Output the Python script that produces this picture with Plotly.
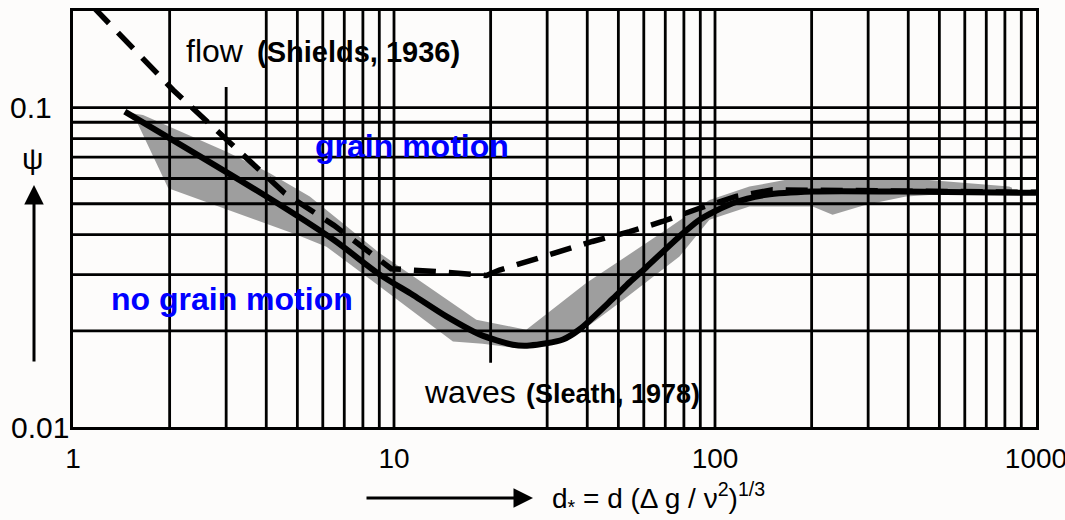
import numpy as np
import plotly.graph_objects as go

# ---------------- data ----------------
# Sleath (1978) waves curve (solid)
waves_x = [1.45, 4.02, 6.5, 9.03, 11.46, 14.56, 18.48, 23.47, 26.45, 33.6, 37.8,
           48.0, 54.2, 61.0, 77.5, 89.4, 113.5, 144.2, 201, 375, 1000]
waves_y = [0.0972, 0.0526, 0.0385, 0.0300, 0.0259, 0.0222, 0.0195, 0.0181, 0.0180,
           0.0188, 0.0202, 0.0252, 0.0284, 0.0316, 0.0395, 0.0445, 0.0502, 0.0533,
           0.0546, 0.0546, 0.0541]

# Shields (1936) flow curve (dashed)
shields_x = [1.16, 2.05, 3.1, 4.57, 6.5, 8.81, 9.8, 13.9, 19.4, 21.3, 29.4, 41.5,
             54.2, 68.6, 89.4, 116.3, 151.2, 250, 1000]
shields_y = [0.206, 0.1136, 0.0772, 0.0539, 0.0428, 0.0342, 0.0313, 0.0306, 0.0298,
             0.0310, 0.0342, 0.0381, 0.0409, 0.0440, 0.0484, 0.0527, 0.0553, 0.0549,
             0.0543]

# grey band of data scatter
band_upper_x = [1.504, 1.652, 3.009, 4.104, 5.466, 9.03, 18.05, 25.83, 39.7, 70.4,
                96.1, 128.0, 166.4, 454, 824.9, 842]
band_upper_y = [0.0962, 0.0949, 0.0728, 0.0623, 0.0527, 0.0350, 0.02166, 0.02016,
                0.02822, 0.04143, 0.05142, 0.0566, 0.0594, 0.0594, 0.0566, 0.0561]
band_lower_x = [1.582, 1.98, 4.98, 6.16, 9.03, 15.26, 18.88, 23.75, 32.8, 37.8, 50.4,
                77.5, 96.1, 128.0, 201.4, 232.4, 295.3, 393.4, 842]
band_lower_y = [0.0902, 0.0559, 0.0400, 0.0367, 0.02754, 0.01853, 0.01822, 0.0177,
                0.01849, 0.01973, 0.02448, 0.0342, 0.04453, 0.0490, 0.0490, 0.04616,
                0.04962, 0.05267, 0.05528]

# grid
x_grid = [2, 3, 4, 5, 6, 7, 8, 9, 10, 20, 30, 40, 50, 60, 70, 80, 90, 100,
          200, 300, 400, 500, 600, 700, 800, 900]
y_grid = [0.02, 0.03, 0.04, 0.05, 0.06, 0.07, 0.08, 0.09, 0.1]
x_grid_partial = {3: (0.01, 0.116), 20: (0.0159, 0.2007)}

x_tickvals = [1, 10, 100, 1000]
x_ticktext = ["1", "10", "100", "1000"]
y_tickvals = [0.01, 0.1]
y_ticktext = ["0.01", "0.1"]

x_lim = (1, 1000)
y_lim = (0.01, 0.2007)

# ---------------- figure ----------------
W, H = 1065, 520
ML, MR, MT, MB = 73, 29, 11, 93
PW, PH = W - ML - MR, H - MT - MB


def px(x):
    return (x - ML) / PW


def py(y):
    return (H - MB - y) / PH


FONT = "Liberation Sans, Arial, Helvetica, sans-serif"
fig = go.Figure()

fig.add_trace(go.Scatter(
    x=band_upper_x + band_lower_x[::-1],
    y=band_upper_y + band_lower_y[::-1],
    fill="toself", fillcolor="#9e9e9e", mode="lines", line=dict(width=0),
    hoverinfo="skip", showlegend=False))

gx, gy = [], []
for v in x_grid:
    lo, hi = x_grid_partial.get(v, y_lim)
    gx += [v, v, None]
    gy += [lo, hi, None]
for v in y_grid:
    gx += [x_lim[0], x_lim[1], None]
    gy += [v, v, None]
fig.add_trace(go.Scatter(x=gx, y=gy, mode="lines",
                         line=dict(color="black", width=2.8),
                         hoverinfo="skip", showlegend=False))

fig.add_trace(go.Scatter(x=waves_x, y=waves_y, mode="lines",
                         line=dict(color="black", width=6, shape="spline", smoothing=0.8),
                         showlegend=False))
fig.add_trace(go.Scatter(x=shields_x, y=shields_y, mode="lines",
                         line=dict(color="black", width=5.5, dash="22px,13px"),
                         showlegend=False))

fig.update_layout(
    width=W, height=H, margin=dict(l=ML, r=MR, t=MT, b=MB, autoexpand=False),
    paper_bgcolor="#fdfcfb", plot_bgcolor="#fdfcfb", showlegend=False,
    font=dict(family=FONT, color="black"))
fig.update_xaxes(type="log", range=[np.log10(x_lim[0]), np.log10(x_lim[1])],
                 showgrid=False, zeroline=False, showline=True, linewidth=3,
                 linecolor="black", mirror=True, ticks="", automargin=False,
                 tickvals=x_tickvals, ticktext=x_ticktext,
                 tickfont=dict(size=28, family=FONT), ticklabelstandoff=4,
                 ticklabeloverflow="allow")
fig.update_yaxes(type="log", range=[np.log10(y_lim[0]), np.log10(y_lim[1])],
                 showgrid=False, zeroline=False, showline=True, linewidth=3,
                 linecolor="black", mirror=True, ticks="", showticklabels=False,
                 automargin=False)

# y tick labels
for v, t, sh in zip(y_tickvals, y_ticktext, [-2, -19]):
    fig.add_annotation(x=0, xref="paper", y=np.log10(v), yref="y", text=t,
                       showarrow=False, xanchor="right", yanchor="middle", xshift=sh,
                       font=dict(size=30, family=FONT, color="black"))


def label(text, x, y, size, color="black", anchor="left"):
    fig.add_annotation(x=px(x), y=py(y), xref="paper", yref="paper", text=text,
                       showarrow=False, xanchor=anchor, yanchor="middle",
                       font=dict(size=size, family=FONT, color=color))


label("flow", 184, 51, 32)
label("<b>(Shields, 1936)</b>", 255, 52, 29)
label("<b>grain motion</b>", 313, 146, 32, "#0000ff")
label("<b>no grain motion</b>", 109, 299, 32, "#0000ff")
label("waves", 422, 392, 32)
label("<b>(Sleath, 1978)</b>", 524, 394, 27)
label("ψ", 32, 158, 30, anchor="center")
label("d<sub>*</sub> = d (Δ g / ν<sup>2</sup>)<sup>1/3</sup>", 550, 498, 28)

# axis arrows
fig.add_annotation(x=px(34), y=py(185), xref="paper", yref="paper", text="",
                   showarrow=True, ax=0, ay=178, arrowhead=2, arrowsize=1.3,
                   arrowwidth=3, arrowcolor="black", standoff=0, startstandoff=0)
fig.add_annotation(x=px(533), y=py(498), xref="paper", yref="paper", text="",
                   showarrow=True, ax=-168, ay=0, arrowhead=2, arrowsize=1.3,
                   arrowwidth=3, arrowcolor="black", standoff=0, startstandoff=0)

fig.write_html("out.html")
